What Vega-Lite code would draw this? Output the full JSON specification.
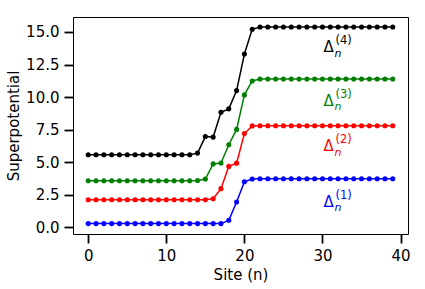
{
  "$schema": "https://vega.github.io/schema/vega-lite/v6.json",
  "width": 335,
  "height": 217,
  "autosize": {"type": "none"},
  "padding": {"left": 73, "top": 17, "right": 17, "bottom": 55},
  "background": "white",
  "config": {
    "font": "DejaVu Sans",
    "view": {"stroke": "black", "strokeWidth": 1},
    "axis": {
      "domain": false,
      "grid": false,
      "tickColor": "black",
      "tickSize": 9,
      "tickWidth": 1.8,
      "labelFont": "DejaVu Sans",
      "labelFontSize": 15,
      "labelColor": "black",
      "titleFont": "DejaVu Sans",
      "titleFontSize": 15,
      "titleFontWeight": "normal",
      "titleColor": "black"
    }
  },
  "datasets": {
    "lines": [
      {"site": 0, "value": 5.57, "series": "4"}, {"site": 1, "value": 5.57, "series": "4"}, {"site": 2, "value": 5.57, "series": "4"}, {"site": 3, "value": 5.57, "series": "4"}, {"site": 4, "value": 5.57, "series": "4"}, {"site": 5, "value": 5.57, "series": "4"}, {"site": 6, "value": 5.57, "series": "4"}, {"site": 7, "value": 5.57, "series": "4"}, {"site": 8, "value": 5.57, "series": "4"}, {"site": 9, "value": 5.57, "series": "4"}, {"site": 10, "value": 5.57, "series": "4"}, {"site": 11, "value": 5.57, "series": "4"}, {"site": 12, "value": 5.57, "series": "4"}, {"site": 13, "value": 5.57, "series": "4"}, {"site": 14, "value": 5.7, "series": "4"}, {"site": 15, "value": 6.97, "series": "4"}, {"site": 16, "value": 6.93, "series": "4"}, {"site": 17, "value": 8.84, "series": "4"}, {"site": 18, "value": 9.1, "series": "4"}, {"site": 19, "value": 10.5, "series": "4"}, {"site": 20, "value": 13.31, "series": "4"}, {"site": 21, "value": 15.2, "series": "4"}, {"site": 22, "value": 15.38, "series": "4"}, {"site": 23, "value": 15.38, "series": "4"}, {"site": 24, "value": 15.38, "series": "4"}, {"site": 25, "value": 15.38, "series": "4"}, {"site": 26, "value": 15.38, "series": "4"}, {"site": 27, "value": 15.38, "series": "4"}, {"site": 28, "value": 15.38, "series": "4"}, {"site": 29, "value": 15.38, "series": "4"}, {"site": 30, "value": 15.38, "series": "4"}, {"site": 31, "value": 15.38, "series": "4"}, {"site": 32, "value": 15.38, "series": "4"}, {"site": 33, "value": 15.38, "series": "4"}, {"site": 34, "value": 15.38, "series": "4"}, {"site": 35, "value": 15.38, "series": "4"}, {"site": 36, "value": 15.38, "series": "4"}, {"site": 37, "value": 15.38, "series": "4"}, {"site": 38, "value": 15.38, "series": "4"}, {"site": 39, "value": 15.38, "series": "4"},
      {"site": 0, "value": 3.58, "series": "3"}, {"site": 1, "value": 3.58, "series": "3"}, {"site": 2, "value": 3.58, "series": "3"}, {"site": 3, "value": 3.58, "series": "3"}, {"site": 4, "value": 3.58, "series": "3"}, {"site": 5, "value": 3.58, "series": "3"}, {"site": 6, "value": 3.58, "series": "3"}, {"site": 7, "value": 3.58, "series": "3"}, {"site": 8, "value": 3.58, "series": "3"}, {"site": 9, "value": 3.58, "series": "3"}, {"site": 10, "value": 3.58, "series": "3"}, {"site": 11, "value": 3.58, "series": "3"}, {"site": 12, "value": 3.58, "series": "3"}, {"site": 13, "value": 3.58, "series": "3"}, {"site": 14, "value": 3.6, "series": "3"}, {"site": 15, "value": 3.71, "series": "3"}, {"site": 16, "value": 4.87, "series": "3"}, {"site": 17, "value": 4.94, "series": "3"}, {"site": 18, "value": 6.34, "series": "3"}, {"site": 19, "value": 7.52, "series": "3"}, {"site": 20, "value": 10.17, "series": "3"}, {"site": 21, "value": 11.24, "series": "3"}, {"site": 22, "value": 11.39, "series": "3"}, {"site": 23, "value": 11.39, "series": "3"}, {"site": 24, "value": 11.39, "series": "3"}, {"site": 25, "value": 11.39, "series": "3"}, {"site": 26, "value": 11.39, "series": "3"}, {"site": 27, "value": 11.39, "series": "3"}, {"site": 28, "value": 11.39, "series": "3"}, {"site": 29, "value": 11.39, "series": "3"}, {"site": 30, "value": 11.39, "series": "3"}, {"site": 31, "value": 11.39, "series": "3"}, {"site": 32, "value": 11.39, "series": "3"}, {"site": 33, "value": 11.39, "series": "3"}, {"site": 34, "value": 11.39, "series": "3"}, {"site": 35, "value": 11.39, "series": "3"}, {"site": 36, "value": 11.39, "series": "3"}, {"site": 37, "value": 11.39, "series": "3"}, {"site": 38, "value": 11.39, "series": "3"}, {"site": 39, "value": 11.39, "series": "3"},
      {"site": 0, "value": 2.12, "series": "2"}, {"site": 1, "value": 2.12, "series": "2"}, {"site": 2, "value": 2.12, "series": "2"}, {"site": 3, "value": 2.12, "series": "2"}, {"site": 4, "value": 2.12, "series": "2"}, {"site": 5, "value": 2.12, "series": "2"}, {"site": 6, "value": 2.12, "series": "2"}, {"site": 7, "value": 2.12, "series": "2"}, {"site": 8, "value": 2.12, "series": "2"}, {"site": 9, "value": 2.12, "series": "2"}, {"site": 10, "value": 2.12, "series": "2"}, {"site": 11, "value": 2.12, "series": "2"}, {"site": 12, "value": 2.12, "series": "2"}, {"site": 13, "value": 2.12, "series": "2"}, {"site": 14, "value": 2.12, "series": "2"}, {"site": 15, "value": 2.12, "series": "2"}, {"site": 16, "value": 2.2, "series": "2"}, {"site": 17, "value": 2.97, "series": "2"}, {"site": 18, "value": 4.68, "series": "2"}, {"site": 19, "value": 4.93, "series": "2"}, {"site": 20, "value": 7.2, "series": "2"}, {"site": 21, "value": 7.79, "series": "2"}, {"site": 22, "value": 7.8, "series": "2"}, {"site": 23, "value": 7.8, "series": "2"}, {"site": 24, "value": 7.8, "series": "2"}, {"site": 25, "value": 7.8, "series": "2"}, {"site": 26, "value": 7.8, "series": "2"}, {"site": 27, "value": 7.8, "series": "2"}, {"site": 28, "value": 7.8, "series": "2"}, {"site": 29, "value": 7.8, "series": "2"}, {"site": 30, "value": 7.8, "series": "2"}, {"site": 31, "value": 7.8, "series": "2"}, {"site": 32, "value": 7.8, "series": "2"}, {"site": 33, "value": 7.8, "series": "2"}, {"site": 34, "value": 7.8, "series": "2"}, {"site": 35, "value": 7.8, "series": "2"}, {"site": 36, "value": 7.8, "series": "2"}, {"site": 37, "value": 7.8, "series": "2"}, {"site": 38, "value": 7.8, "series": "2"}, {"site": 39, "value": 7.8, "series": "2"},
      {"site": 0, "value": 0.29, "series": "1"}, {"site": 1, "value": 0.29, "series": "1"}, {"site": 2, "value": 0.29, "series": "1"}, {"site": 3, "value": 0.29, "series": "1"}, {"site": 4, "value": 0.29, "series": "1"}, {"site": 5, "value": 0.29, "series": "1"}, {"site": 6, "value": 0.29, "series": "1"}, {"site": 7, "value": 0.29, "series": "1"}, {"site": 8, "value": 0.29, "series": "1"}, {"site": 9, "value": 0.29, "series": "1"}, {"site": 10, "value": 0.29, "series": "1"}, {"site": 11, "value": 0.29, "series": "1"}, {"site": 12, "value": 0.29, "series": "1"}, {"site": 13, "value": 0.29, "series": "1"}, {"site": 14, "value": 0.29, "series": "1"}, {"site": 15, "value": 0.29, "series": "1"}, {"site": 16, "value": 0.29, "series": "1"}, {"site": 17, "value": 0.29, "series": "1"}, {"site": 18, "value": 0.54, "series": "1"}, {"site": 19, "value": 1.95, "series": "1"}, {"site": 20, "value": 3.5, "series": "1"}, {"site": 21, "value": 3.71, "series": "1"}, {"site": 22, "value": 3.73, "series": "1"}, {"site": 23, "value": 3.73, "series": "1"}, {"site": 24, "value": 3.73, "series": "1"}, {"site": 25, "value": 3.73, "series": "1"}, {"site": 26, "value": 3.73, "series": "1"}, {"site": 27, "value": 3.73, "series": "1"}, {"site": 28, "value": 3.73, "series": "1"}, {"site": 29, "value": 3.73, "series": "1"}, {"site": 30, "value": 3.73, "series": "1"}, {"site": 31, "value": 3.73, "series": "1"}, {"site": 32, "value": 3.73, "series": "1"}, {"site": 33, "value": 3.73, "series": "1"}, {"site": 34, "value": 3.73, "series": "1"}, {"site": 35, "value": 3.73, "series": "1"}, {"site": 36, "value": 3.73, "series": "1"}, {"site": 37, "value": 3.73, "series": "1"}, {"site": 38, "value": 3.73, "series": "1"}, {"site": 39, "value": 3.73, "series": "1"}
    ],
    "labels": [
      {"site": 30, "value": 13.44, "series": "4", "sup": "(4)"},
      {"site": 30, "value": 9.35, "series": "3", "sup": "(3)"},
      {"site": 30, "value": 5.83, "series": "2", "sup": "(2)"},
      {"site": 30, "value": 1.6, "series": "1", "sup": "(1)"}
    ]
  },
  "encoding": {
    "x": {
      "field": "site", "type": "quantitative",
      "scale": {"domain": [-1.95, 40.95], "nice": false, "zero": false},
      "axis": {"values": [0, 10, 20, 30, 40], "title": "Site (n)", "labelPadding": 5, "titlePadding": 4}
    },
    "y": {
      "field": "value", "type": "quantitative",
      "scale": {"domain": [-0.51, 16.15], "nice": false, "zero": false},
      "axis": {"values": [0, 2.5, 5, 7.5, 10, 12.5, 15], "format": ".1f", "title": "Superpotential", "labelPadding": 5, "titlePadding": 4}
    },
    "color": {
      "field": "series", "type": "nominal",
      "scale": {"domain": ["1", "2", "3", "4"], "range": ["#0000ff", "#ff0000", "#008000", "#000000"]},
      "legend": null
    }
  },
  "layer": [
    {
      "data": {"name": "lines"},
      "mark": {"type": "line", "strokeWidth": 1.5, "point": {"filled": true, "size": 26, "opacity": 1}}
    },
    {
      "data": {"name": "labels"},
      "mark": {"type": "text", "text": "Δ", "align": "left", "baseline": "alphabetic", "fontSize": 15, "dx": 1}
    },
    {
      "data": {"name": "labels"},
      "mark": {"type": "text", "text": "n", "align": "left", "baseline": "alphabetic", "fontSize": 11, "fontStyle": "italic", "dx": 12, "dy": 4.5}
    },
    {
      "data": {"name": "labels"},
      "mark": {"type": "text", "align": "left", "baseline": "alphabetic", "fontSize": 11.5, "dx": 13, "dy": -8},
      "encoding": {"text": {"field": "sup"}}
    }
  ]
}
